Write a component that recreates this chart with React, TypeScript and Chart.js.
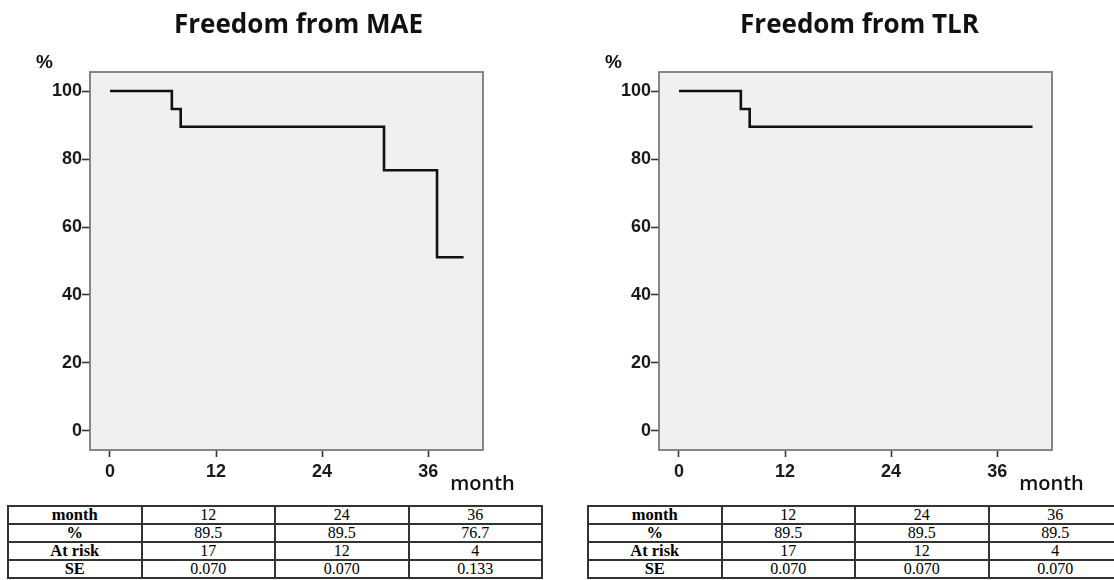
import React, { useEffect, useRef } from 'react';
import { Chart, registerables } from 'chart.js';

Chart.register(...registerables);

// ---- data ----
const xTickValues = [0, 12, 24, 36];
const yTickValues = [0, 20, 40, 60, 80, 100];

const maeMonths = [0, 7, 8, 31, 37, 40];
const maeSurvival = [100, 94.7, 89.5, 76.7, 51.1, 51.1];

const tlrMonths = [0, 7, 8, 40];
const tlrSurvival = [100, 94.7, 89.5, 89.5];

const tableRowLabels = ['month', '%', 'At risk', 'SE'];
const tableMonths = ['12', '24', '36'];
const maePercent = ['89.5', '89.5', '76.7'];
const maeAtRisk = ['17', '12', '4'];
const maeSE = ['0.070', '0.070', '0.133'];
const tlrPercent = ['89.5', '89.5', '89.5'];
const tlrAtRisk = ['17', '12', '4'];
const tlrSE = ['0.070', '0.070', '0.070'];

// ---- layout ----
const CHART_W = 569;
const CHART_H = 500;
const X_MIN = -2.26;
const X_MAX = 42.2;
const Y_MIN = -5.6;
const Y_MAX = 105.6;

const decorPlugin = {
  id: 'decor',
  beforeDatasetsDraw(chart: any) {
    const { ctx, chartArea: a } = chart;
    ctx.save();
    ctx.fillStyle = '#f0f0f0';
    ctx.fillRect(a.left, a.top, a.right - a.left, a.bottom - a.top);
    ctx.strokeStyle = '#7a7a7a';
    ctx.lineWidth = 1.8;
    ctx.strokeRect(a.left, a.top, a.right - a.left, a.bottom - a.top);
    ctx.restore();
  },
  afterDraw(chart: any, _args: any, opts: any) {
    const { ctx, chartArea: a } = chart;
    ctx.save();
    ctx.fillStyle = '#111';
    ctx.textAlign = 'center';
    ctx.textBaseline = 'alphabetic';
    ctx.font = 'bold 26px "Open Sans"';
    ctx.fillText(opts.title, (a.left + a.right) / 2 + (opts.titleShift || 0), 33);
    ctx.font = 'bold 19px "Liberation Sans"';
    ctx.fillText('%', a.left - 45.5, 68);
    ctx.font = '600 20px "Open Sans"';
    ctx.fillText('month', a.right - 0.5, a.bottom + 40);
    ctx.restore();
  },
};

function KMChart(props: { title: string; titleShift: number; months: number[]; survival: number[]; left: number }) {
  const ref = useRef<HTMLCanvasElement>(null);
  useEffect(() => {
    const tickFont = { family: '"Liberation Sans", Arial, sans-serif', size: 18, weight: 'bold' as const };
    const chart = new Chart(ref.current as HTMLCanvasElement, {
      type: 'line',
      data: {
        datasets: [
          {
            data: props.months.map((m, i) => ({ x: m, y: props.survival[i] })),
            stepped: 'before',
            borderColor: '#111',
            borderWidth: 2.6,
            pointRadius: 0,
            fill: false,
            tension: 0,
          },
        ],
      },
      options: {
        responsive: false,
        animation: false,
        devicePixelRatio: 1,
        layout: { padding: { left: 0, right: CHART_W - 483, top: 72, bottom: 10 } },
        plugins: {
          legend: { display: false },
          tooltip: { enabled: false },
          title: { display: false },
          // @ts-ignore
          decor: { title: props.title, titleShift: props.titleShift },
        },
        scales: {
          x: {
            type: 'linear',
            min: X_MIN,
            max: X_MAX,
            afterBuildTicks: (s: any) => {
              s.ticks = xTickValues.map((v) => ({ value: v }));
            },
            afterFit: (s: any) => {
              s.height = 40;
            },
            grid: { display: true, drawOnChartArea: false, drawTicks: true, tickLength: 7, tickColor: '#333', tickWidth: 1.6 },
            border: { display: false },
            ticks: { padding: 4, color: '#1a1a1a', font: tickFont, maxRotation: 0, autoSkip: false },
          },
          y: {
            type: 'linear',
            min: Y_MIN,
            max: Y_MAX,
            afterBuildTicks: (s: any) => {
              s.ticks = yTickValues.map((v) => ({ value: v }));
            },
            afterFit: (s: any) => {
              s.width = 90;
            },
            grid: { display: true, drawOnChartArea: false, drawTicks: true, tickLength: 8, tickColor: '#333', tickWidth: 1.6 },
            border: { display: false },
            ticks: { padding: 0, color: '#1a1a1a', font: tickFont, autoSkip: false },
          },
        },
      } as any,
      plugins: [decorPlugin],
    });
    return () => chart.destroy();
  }, []);
  return (
    <canvas
      ref={ref}
      width={CHART_W}
      height={CHART_H}
      style={{ position: 'absolute', left: props.left, top: 0, width: CHART_W, height: CHART_H }}
    />
  );
}

function StatTable(props: { left: number; percent: string[]; atRisk: string[]; se: string[] }) {
  const cell: React.CSSProperties = {
    border: '2px solid #333',
    padding: 0,
    height: 16,
    lineHeight: '16px',
    textAlign: 'center',
    whiteSpace: 'nowrap',
    fontSize: 16,
  };
  const head: React.CSSProperties = { ...cell, fontWeight: 'bold', fontSize: 16.5 };
  const rows = [tableMonths, props.percent, props.atRisk, props.se];
  return (
    <table
      style={{
        position: 'absolute',
        left: props.left,
        top: 505,
        width: 536,
        borderCollapse: 'collapse',
        tableLayout: 'fixed',
        fontFamily: '"Liberation Serif", "Times New Roman", serif',
        color: '#000',
      }}
    >
      <tbody>
        {rows.map((r, ri) => (
          <tr key={ri}>
            <td style={head}>{tableRowLabels[ri]}</td>
            {r.map((v, ci) => (
              <td key={ci} style={cell}>
                {v}
              </td>
            ))}
          </tr>
        ))}
      </tbody>
    </table>
  );
}

export default function App() {
  return (
    <div style={{ position: 'relative', width: 1114, height: 580, overflow: 'hidden', background: '#fff' }}>
      <style>{'body{margin:0}'}</style>
      <KMChart title="Freedom from MAE" titleShift={12} months={maeMonths} survival={maeSurvival} left={0} />
      <KMChart title="Freedom from TLR" titleShift={4} months={tlrMonths} survival={tlrSurvival} left={569} />
      <StatTable left={7} percent={maePercent} atRisk={maeAtRisk} se={maeSE} />
      <StatTable left={587} percent={tlrPercent} atRisk={tlrAtRisk} se={tlrSE} />
    </div>
  );
}
